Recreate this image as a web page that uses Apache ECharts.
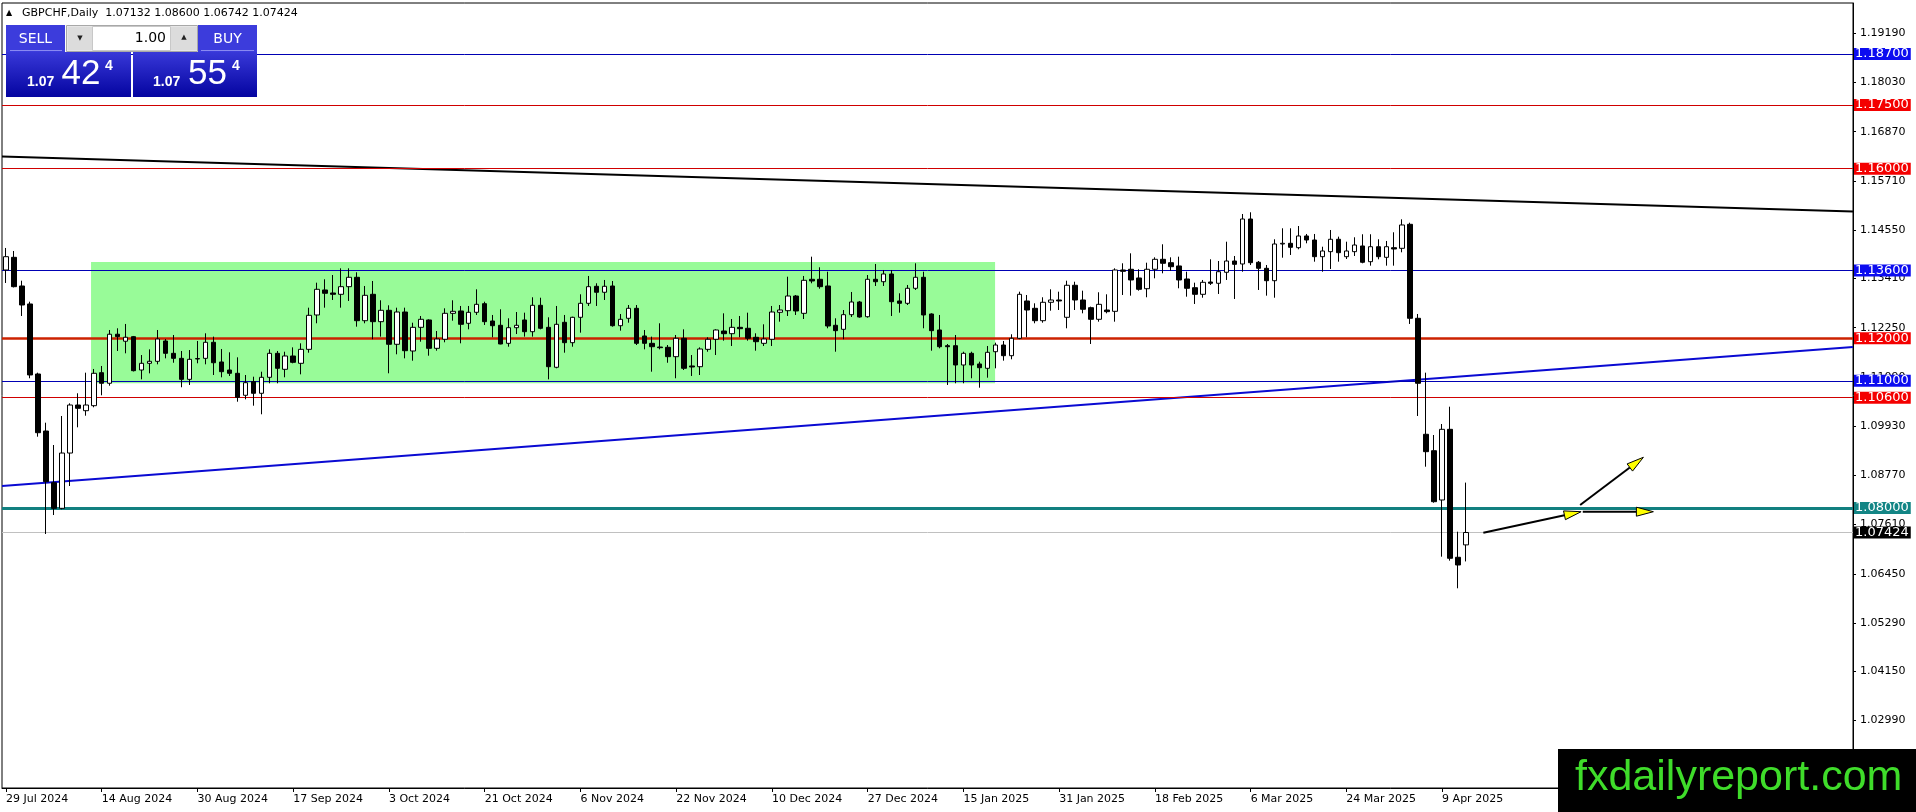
<!DOCTYPE html>
<html><head><meta charset="utf-8">
<script src="https://cdn.jsdelivr.net/npm/echarts@6/dist/echarts.min.js"></script>
<style>html,body{margin:0;padding:0;background:#fff;}#c{width:1916px;height:812px;}</style>
</head><body><div id="c"></div>
<script>
const symbolName = 'GBPCHF';
const timeframe = 'Daily';
const opens = [1.13611,1.1391,1.13234,1.1281,1.1116,1.09816,1.08598,1.07994,1.09297,1.10429,1.10295,1.10413,1.11191,1.10941,1.12097,1.11932,1.1204,1.11254,1.11412,1.11459,
1.11938,1.11647,1.11529,1.11034,1.11513,1.11529,1.11907,1.11443,1.11254,1.11176,1.10658,1.10979,1.10705,1.11082,1.11647,1.1127,1.11584,1.11412,1.11741,1.12551,
1.1314,1.13069,1.13038,1.13218,1.13439,1.12416,1.13038,1.12393,1.12661,1.1186,1.12621,1.11702,1.1226,1.12433,1.11765,1.11978,1.1259,1.12645,1.12355,1.12614,
1.12817,1.12409,1.12308,1.11883,1.12251,1.12433,1.12157,1.12779,1.1226,1.11318,1.12378,1.11898,1.12496,1.12826,1.13227,1.13086,1.13234,1.12298,1.12473,1.12708,
1.12056,1.11883,1.11796,1.11789,1.11568,1.12001,1.11349,1.11332,1.11741,1.11978,1.12173,1.1211,1.1226,1.12237,1.12025,1.11883,1.11978,1.12614,1.12652,1.12998,
1.1259,1.13392,1.13392,1.13234,1.12308,1.12213,1.12558,1.12857,1.1251,1.13392,1.13335,1.13517,1.12881,1.12826,1.1318,1.13439,1.12574,1.12197,1.11827,1.11827,
1.11372,1.11647,1.11396,1.11294,1.11685,1.11843,1.11591,1.12001,1.12881,1.12708,1.12416,1.1285,1.12904,1.12496,1.13251,1.12904,1.12723,1.12449,1.12668,1.12637,
1.13611,1.13628,1.13423,1.1317,1.13628,1.13863,1.13783,1.13706,1.13399,1.13194,1.13038,1.13328,1.13298,1.13557,1.13823,1.13753,1.14813,1.13793,1.13651,1.13359,
1.14224,1.1424,1.14137,1.14413,1.14318,1.13925,1.14043,1.14335,1.13925,1.14043,1.14177,1.13807,1.1416,1.1391,1.14137,1.14122,1.14688,1.12473,1.09739,1.09352,
1.0819,1.09856,1.0684,1.07132];
const highs = [1.1413,1.14059,1.13359,1.12864,1.11191,1.10012,1.09486,1.1017,1.10469,1.10705,1.11191,1.11278,1.11349,1.12197,1.12237,1.12339,1.12056,1.11607,1.11741,1.12197,
1.11985,1.12079,1.11702,1.11725,1.11938,1.12119,1.1204,1.11749,1.11671,1.11553,1.11136,1.11096,1.11214,1.11741,1.11702,1.11685,1.11788,1.11883,1.12723,1.13312,
1.13392,1.13493,1.13651,1.13651,1.13557,1.13234,1.13352,1.12897,1.12779,1.12723,1.12723,1.12369,1.12527,1.12449,1.12173,1.12708,1.12897,1.12763,1.12763,1.13156,
1.12864,1.12551,1.12685,1.12473,1.12621,1.12605,1.12968,1.12958,1.12496,1.12763,1.12551,1.1251,1.13038,1.1347,1.13298,1.13376,1.13352,1.12574,1.12786,1.12786,
1.12197,1.1204,1.12355,1.11843,1.12079,1.12213,1.11607,1.11788,1.12025,1.12213,1.1259,1.12456,1.12527,1.12605,1.12119,1.12331,1.12763,1.12786,1.13453,1.13022,
1.1347,1.13925,1.13675,1.13571,1.12473,1.12668,1.13093,1.12881,1.13493,1.13753,1.13611,1.13611,1.13062,1.13258,1.13769,1.13571,1.1259,1.12551,1.11867,1.12079,
1.11685,1.11685,1.1145,1.1182,1.11898,1.11938,1.12096,1.131,1.13022,1.12826,1.12968,1.13156,1.131,1.13359,1.13335,1.13124,1.12747,1.13086,1.13038,1.13651,
1.13769,1.14004,1.13628,1.13783,1.1391,1.14217,1.1391,1.13925,1.13571,1.13312,1.13376,1.13863,1.13823,1.14278,1.13941,1.14931,1.14971,1.13823,1.13729,1.14335,
1.14594,1.14594,1.14648,1.1446,1.1446,1.1416,1.14554,1.14397,1.14278,1.14382,1.14453,1.14453,1.14335,1.14295,1.145,1.14806,1.14726,1.12574,1.11191,1.09722,
1.09981,1.10389,1.07443,1.086];
const lows = [1.13305,1.132,1.12527,1.11059,1.09682,1.07389,1.07836,1.0797,1.0852,1.09903,1.10177,1.10375,1.10658,1.10884,1.11702,1.11647,1.1122,1.11034,1.11175,1.11388,
1.11529,1.11425,1.10847,1.10901,1.11412,1.11388,1.11136,1.11082,1.11113,1.10507,1.10563,1.10413,1.1021,1.10941,1.10941,1.11082,1.11412,1.11152,1.11662,1.12355,
1.12723,1.12904,1.12723,1.12881,1.12275,1.12355,1.11978,1.1204,1.11176,1.11624,1.11529,1.11473,1.11921,1.11591,1.11709,1.11907,1.12416,1.11883,1.12213,1.12551,
1.12315,1.12025,1.1186,1.11803,1.12102,1.1204,1.1204,1.12213,1.11034,1.11294,1.11662,1.11803,1.12134,1.12763,1.12763,1.12904,1.12275,1.12181,1.12369,1.11843,
1.11741,1.11214,1.11741,1.11425,1.11059,1.11254,1.11113,1.11136,1.11685,1.11607,1.11945,1.1182,1.12025,1.11945,1.11709,1.1182,1.1182,1.12393,1.12527,1.12551,
1.12456,1.13298,1.1317,1.12237,1.11685,1.11978,1.12503,1.12487,1.12487,1.13234,1.13234,1.12527,1.12605,1.12786,1.1314,1.12237,1.11709,1.11765,1.10901,1.10941,
1.10941,1.11059,1.10837,1.11073,1.11294,1.11474,1.11506,1.1198,1.12025,1.12355,1.12369,1.12652,1.12668,1.12237,1.12668,1.1259,1.11867,1.12393,1.1259,1.12393,
1.13022,1.13006,1.13124,1.12968,1.13415,1.13533,1.13595,1.1318,1.12982,1.1281,1.12958,1.13258,1.13046,1.13376,1.12928,1.13571,1.13729,1.1314,1.13006,1.12958,
1.13901,1.13965,1.14099,1.1424,1.13807,1.13571,1.13635,1.13807,1.1387,1.13941,1.13769,1.13713,1.13863,1.13713,1.13713,1.14028,1.12339,1.1017,1.08975,1.08126,
1.06854,1.0676,1.06109,1.06742];
const closes = [1.13925,1.13218,1.12786,1.11137,1.09776,1.08622,1.07994,1.09297,1.10429,1.10351,1.10429,1.11176,1.10941,1.12097,1.1204,1.12026,1.11238,1.11412,1.11459,1.11985,
1.11647,1.11529,1.11034,1.11506,1.11525,1.11907,1.11425,1.11214,1.11176,1.1061,1.10955,1.10705,1.11082,1.11647,1.11294,1.11584,1.11435,1.11741,1.12543,1.13156,
1.13062,1.13038,1.13218,1.13439,1.12416,1.13014,1.12393,1.12661,1.1186,1.12621,1.11709,1.1226,1.12449,1.11765,1.11985,1.1259,1.12637,1.12331,1.12614,1.12802,
1.12393,1.12298,1.11867,1.12251,1.12308,1.12157,1.12779,1.12237,1.11332,1.12331,1.11898,1.12496,1.12826,1.13218,1.13086,1.13227,1.12298,1.12449,1.12708,1.11883,
1.11883,1.11803,1.1178,1.11568,1.12001,1.11294,1.11325,1.11749,1.11978,1.12197,1.1211,1.1226,1.12228,1.12001,1.11921,1.11985,1.12621,1.12668,1.12998,1.12645,
1.13368,1.13352,1.13218,1.12291,1.12181,1.12558,1.12857,1.12503,1.13392,1.13335,1.13517,1.12864,1.12826,1.1318,1.13439,1.12551,1.12181,1.11803,1.11803,1.11372,
1.11647,1.11372,1.11308,1.11671,1.11843,1.11591,1.12001,1.13038,1.12668,1.12416,1.1285,1.12904,1.12881,1.13251,1.12904,1.12685,1.12449,1.12802,1.12629,1.13611,
1.1358,1.13376,1.13156,1.13628,1.13863,1.13769,1.13689,1.13376,1.1318,1.13038,1.13321,1.13298,1.13571,1.13823,1.13745,1.14813,1.13783,1.13651,1.13359,1.14224,
1.1424,1.14146,1.14413,1.14318,1.13925,1.14059,1.14335,1.14019,1.14059,1.142,1.13793,1.1416,1.13925,1.1416,1.14106,1.14672,1.12473,1.10941,1.09329,1.0815,
1.09856,1.06816,1.06658,1.07424];
const dateLabels = ['29 Jul 2024','14 Aug 2024','30 Aug 2024','17 Sep 2024','3 Oct 2024','21 Oct 2024','6 Nov 2024','22 Nov 2024','10 Dec 2024','27 Dec 2024','15 Jan 2025','31 Jan 2025','18 Feb 2025','6 Mar 2025','24 Mar 2025','9 Apr 2025'];
const labelEvery = 12;
const totalSlots = 232;
const yTicks = [1.19190,1.18030,1.16870,1.15710,1.14550,1.13410,1.12250,1.11090,1.09930,1.08770,1.07610,1.06450,1.05290,1.04150,1.02990];
const yMin = 1.01402, yMax = 1.19904;
const levels = [1.187,1.175,1.16,1.136,1.12,1.11,1.106,1.08];
const levelKinds = ['blue','red','red','blue','redThick','blue','red','teal'];
const bid = 1.07424, ask = 1.07554;
const lotSize = '1.00';
const trendBlack = [[-0.5,1.16289],[231.5,1.1499]];
const trendBlue = [[-0.5,1.0852],[231.5,1.11796]];
const zone = [[10.66,1.1380],[123.97,1.10941]];
const arrows = [[185.17,1.07419,197.42,1.07914],[197.3,1.08072,205.23,1.09197],[197.63,1.07914,206.48,1.07914]];

const FONT = "'Liberation Sans', Arial, sans-serif";
const TFONT = "'DejaVu Sans', Tahoma, sans-serif";
const kindStyle = {
  blue:{line:'#0000b4',w:1,bg:'#0c0cf0'},
  red:{line:'#d00000',w:1,bg:'#f40000'},
  redThick:{line:'#cc2200',w:2.5,bg:'#f40000'},
  teal:{line:'#128080',w:3,bg:'#138585'},
  bidline:{line:'#c0c0c0',w:1,bg:'#000000'}
};
function lvlItem(v, kind){
  const s = kindStyle[kind];
  return {yAxis:v, lineStyle:{color:s.line,width:s.w,type:'solid'},
    label:{show:true,position:'end',distance:1,formatter:()=>v.toFixed(5),color:'#fff',backgroundColor:s.bg,
      fontFamily:TFONT,fontSize:13,lineHeight:12,padding:[0,2,0,1]}};
}
const lvlData = levels.map((v,i)=>lvlItem(v,levelKinds[i]));
lvlData.push(lvlItem(bid,'bidline'));

const candleData = opens.map((o,i)=>[o, closes[i], lows[i], highs[i]]);
const cats = Array.from({length:totalSlots},(_,i)=>String(i));
const showIdx = (i)=> i % labelEvery === 0 && (i/labelEvery) < dateLabels.length;

const last = opens.length-1;
const headerText = symbolName+','+timeframe+'  '+[opens[last],highs[last],lows[last],closes[last]].map(v=>v.toFixed(5)).join(' ');
function splitPrice(p){ const s=p.toFixed(5); return [s.slice(0,4), s.slice(4,6), s.slice(6)]; }
const bidParts = splitPrice(bid), askParts = splitPrice(ask);

function txt(x,y,text,size,opt){
  opt = opt||{};
  return {type:'text', z:100, style:{x:x,y:y,text:text,fill:opt.fill||'#fff',fontSize:size,fontFamily:opt.family||FONT,
    fontWeight:opt.weight||'normal',align:opt.align||'left',textAlign:opt.align||'left',verticalAlign:'middle',textVerticalAlign:'middle'}};
}
const grad = ()=> new echarts.graphic.LinearGradient(0,0,0,1,[{offset:0,color:'#3838d8'},{offset:1,color:'#0404a0'}]);
const graphics = [
  txt(6,12.5,'▲',8,{fill:'#000',family:TFONT}),
  txt(22,13,headerText,11,{fill:'#000',family:TFONT}),
  {type:'rect',z:100,shape:{x:6,y:25,width:59,height:27},style:{fill:'#3c3cdc'}},
  {type:'rect',z:100,shape:{x:10,y:50,width:52,height:1},style:{fill:'#8a8af2'}},
  {type:'rect',z:100,shape:{x:198,y:25,width:59,height:27},style:{fill:'#3c3cdc'}},
  {type:'rect',z:100,shape:{x:201,y:50,width:53,height:1},style:{fill:'#8a8af2'}},
  {type:'rect',z:100,shape:{x:66.5,y:25.5,width:131,height:26},style:{fill:'#efefef',stroke:'#a8a8a8',lineWidth:1}},
  {type:'rect',z:100,shape:{x:67.5,y:26.5,width:25,height:24},style:{fill:'#dcdcdc'}},
  {type:'rect',z:100,shape:{x:92.5,y:26.5,width:78,height:24},style:{fill:'#ffffff',stroke:'#c8c8c8',lineWidth:1}},
  {type:'rect',z:100,shape:{x:171,y:26.5,width:26,height:24},style:{fill:'#dcdcdc'}},
  txt(80,38.5,'▼',7,{fill:'#222',align:'center',family:TFONT}),
  txt(184,37.5,'▲',7,{fill:'#222',align:'center',family:TFONT}),
  txt(166,38,lotSize,14,{fill:'#000',align:'right',family:TFONT}),
  txt(35.5,39,'SELL',14,{align:'center',family:TFONT}),
  txt(227.5,39,'BUY',14,{align:'center',family:TFONT}),
  {type:'rect',z:100,shape:{x:6,y:52,width:125,height:45},style:{fill:grad()}},
  {type:'rect',z:100,shape:{x:133,y:52,width:124,height:45},style:{fill:grad()}},
  txt(27,82,bidParts[0],14,{weight:'bold'}),
  txt(61.5,74.5,bidParts[1],35),
  txt(105,66,bidParts[2],14,{weight:'bold'}),
  txt(153,82,askParts[0],14,{weight:'bold'}),
  txt(188,74.5,askParts[1],35),
  txt(232,66,askParts[2],14,{weight:'bold'}),
  {type:'rect',z:100,shape:{x:1558,y:749,width:358,height:63},style:{fill:'#000'}},
  txt(1575,778,'fxdailyreport.com',43,{fill:'#3fdc2a'})
];

const chart = echarts.init(document.getElementById('c'));
chart.setOption({
  animation:false,
  backgroundColor:'#fff',
  grid:{left:2,top:3,width:1851,height:785,show:true,borderColor:'#000',borderWidth:1,backgroundColor:'transparent'},
  xAxis:[
    {type:'category',data:cats,boundaryGap:true,
     axisLine:{show:true,onZero:false,lineStyle:{color:'#000',width:1}},
     axisTick:{show:true,alignWithLabel:true,interval:(i)=>showIdx(i),length:4,lineStyle:{color:'#000'}},
     axisLabel:{show:true,interval:(i)=>showIdx(i),formatter:(v,i)=>dateLabels[Math.round(Number(v)/labelEvery)],align:'left',margin:6,
       fontFamily:TFONT,fontSize:11,color:'#000'},
     splitLine:{show:false}},
    {type:'value',min:-0.5,max:totalSlots-0.5,show:false,axisLine:{show:false,onZero:false}}
  ],
  yAxis:{type:'value',position:'right',min:yMin,max:yMax,scale:true,
    axisLine:{show:true,onZero:false,lineStyle:{color:'#000'}},
    axisTick:{show:true,length:3,customValues:yTicks,lineStyle:{color:'#000'}},
    axisLabel:{show:true,customValues:yTicks,formatter:(v)=>Number(v).toFixed(5),margin:7,fontFamily:TFONT,fontSize:11,color:'#000'},
    splitLine:{show:false}},
  graphic:graphics,
  series:[
    {type:'line',xAxisIndex:1,data:[],z:1,silent:true,
     markArea:{silent:true,itemStyle:{color:'#98fb98',opacity:1},
       data:[[{xAxis:zone[0][0],yAxis:zone[0][1]},{xAxis:zone[1][0],yAxis:zone[1][1]}]]}},
    {type:'line',xAxisIndex:1,data:[],z:2,silent:true,
     markLine:{silent:true,precision:5,symbol:['none','none'],animation:false,data:lvlData}},
    {type:'line',xAxisIndex:1,data:trendBlack,symbol:'none',z:3,silent:true,lineStyle:{color:'#000',width:2}},
    {type:'line',xAxisIndex:1,data:trendBlue,symbol:'none',z:3,silent:true,lineStyle:{color:'#0a0ad2',width:2.2}},
    {type:'candlestick',xAxisIndex:0,data:candleData,barWidth:5,z:5,
     itemStyle:{color:'#ffffff',color0:'#000000',borderColor:'#000000',borderColor0:'#000000',borderWidth:1}},
    {type:'custom',xAxisIndex:1,data:arrows,z:6,silent:true,encode:{x:[0,2],y:[1,3]},
     renderItem:function(params,api){
       const p0=api.coord([api.value(0),api.value(1)]);
       const p1=api.coord([api.value(2),api.value(3)]);
       const dx=p1[0]-p0[0], dy=p1[1]-p0[1], len=Math.hypot(dx,dy);
       const ux=dx/len, uy=dy/len, nx=-uy, ny=ux, hl=17, hw=4.5;
       const bx=p1[0]-ux*hl, by=p1[1]-uy*hl;
       return {type:'group',children:[
         {type:'line',shape:{x1:p0[0],y1:p0[1],x2:bx,y2:by},style:{stroke:'#000',lineWidth:2}},
         {type:'polygon',shape:{points:[[p1[0],p1[1]],[bx+nx*hw,by+ny*hw],[bx-nx*hw,by-ny*hw]]},style:{fill:'#ffff00',stroke:'#000',lineWidth:1}}
       ]};
     }}
  ]
});
</script></body></html>
